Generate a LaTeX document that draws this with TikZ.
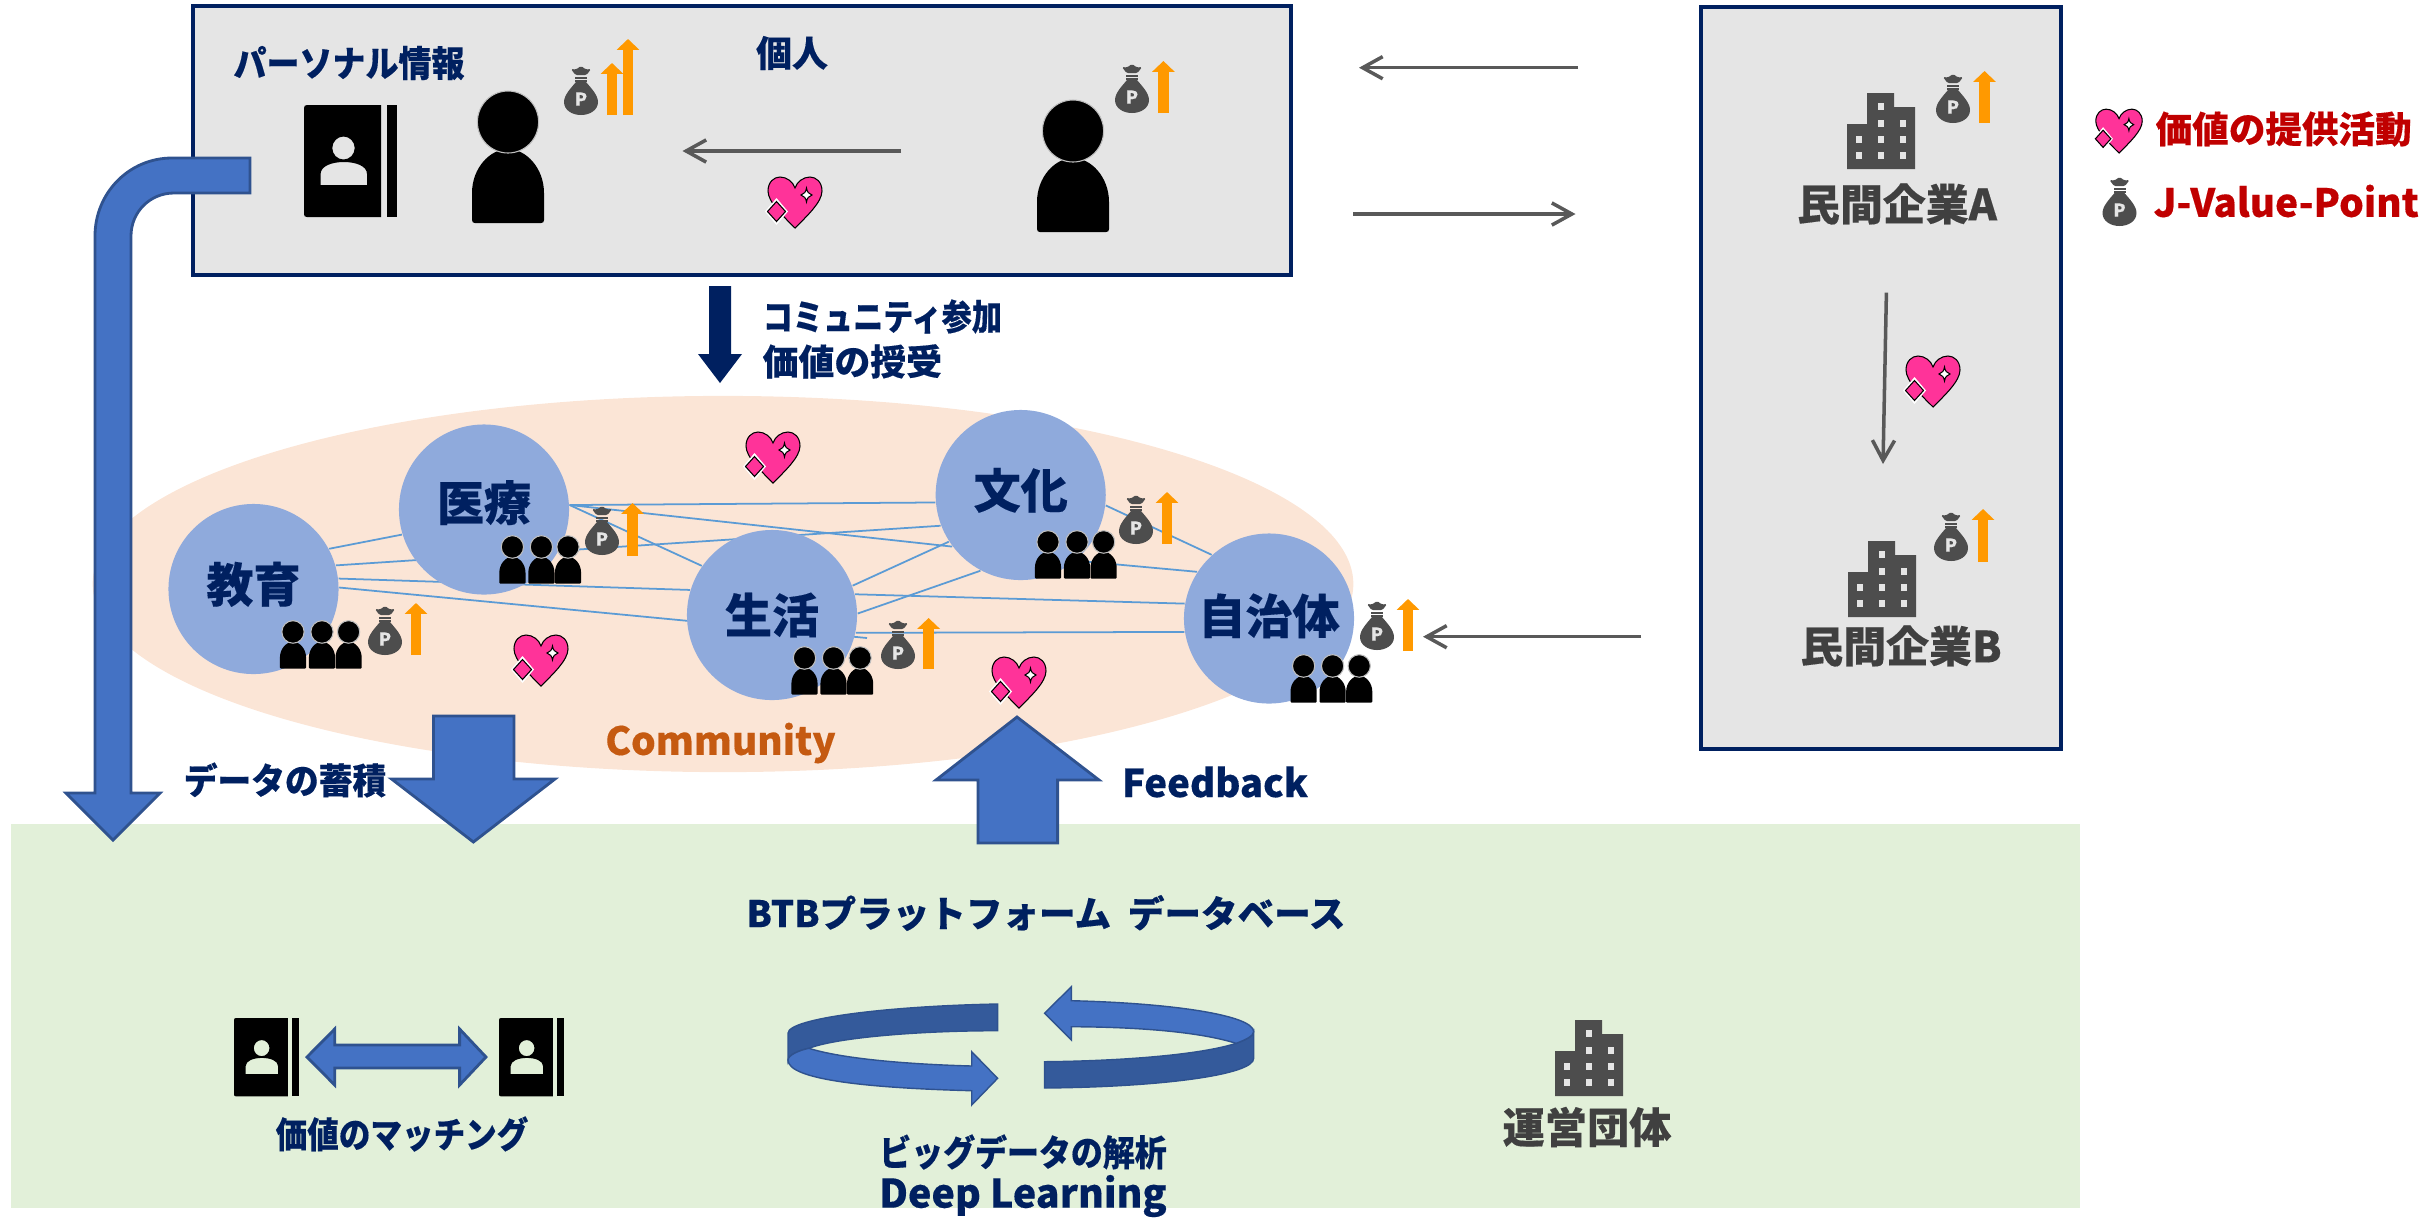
\documentclass[tikz,border=0pt]{standalone}
\usepackage{fontspec}
\setmainfont[BoldFeatures={FakeBold=0.3}]{Noto Sans CJK JP}
\usetikzlibrary{arrows.meta,shapes.geometric}

\definecolor{navy}{HTML}{002060}
\definecolor{panelgray}{HTML}{E5E5E5}
\definecolor{iconbrown}{HTML}{4D4D4D}
\definecolor{textgray}{HTML}{404040}
\definecolor{flowgray}{HTML}{595959}
\definecolor{areablue}{HTML}{8FAADC}
\definecolor{linkblue}{HTML}{5B9BD5}
\definecolor{peach}{HTML}{FBE5D6}
\definecolor{mint}{HTML}{E2F0D9}
\definecolor{blockblue}{HTML}{4472C4}
\definecolor{blockdark}{HTML}{2F528F}
\definecolor{ringdark}{HTML}{345A9B}
\definecolor{heartpink}{HTML}{FF3399}
\definecolor{pointorange}{HTML}{FF9900}
\definecolor{legendred}{HTML}{C00000}
\definecolor{commorange}{HTML}{C55A11}

\newcommand{\narrowed}[1]{\addfontfeature{FakeStretch=#1}}

\pgfdeclarelayer{bg}
\pgfdeclarelayer{links}
\pgfsetlayers{bg,links,main}

\tikzset{
    panel/.style={draw=navy, line width=1.1pt, fill=panelgray, inner sep=0pt},
    area/.style={circle, fill=areablue, minimum size=1.7cm, inner sep=0pt, text=navy, font=\fontsize{13.4}{14}\selectfont\bfseries},
    link/.style={linkblue, line width=.5pt},
    flow/.style={draw=flowgray, line width=1pt, -{Straight Barb[length=5.7pt,width=6.3pt]}},
    blockarrow/.style={draw=blockdark, fill=blockblue, line width=.8pt},
    pointup/.style={draw=pointorange, line width=3.1pt, -{Triangle[length=3.1pt,width=6.3pt]}},
    navytext/.style={text=navy, inner sep=0pt, font=\fontsize{#1}{12.8}\selectfont\bfseries},
    graytext/.style={text=textgray, inner sep=0pt, font=\fontsize{#1}{14}\selectfont\bfseries},
    redtext/.style={text=legendred, inner sep=0pt, font=\fontsize{#1}{14}\selectfont\bfseries},
    % origin of each icon: bottom centre, the note and the building bottom left
    pics/person/.style={code={
        \fill (-36,-3) -- (-36,-30) .. controls (-36,-55) and (-18,-74) .. (0,-74)
            .. controls (18,-74) and (36,-55) .. (36,-30) -- (36,-3)
            .. controls (36,-1) and (35,0) .. (33,0) -- (-33,0) .. controls (-35,0) and (-36,-1) .. (-36,-3) -- cycle;
        \filldraw[draw=white!75!black, line width=.3pt] (0,-101) ellipse (30.6 and 31);
    }},
    pics/crowd/.style={code={
        \foreach \dx in {0,29,55.6}{
            \pic[scale=.364] at (\dx,0) {person};
        }
    }},
    pics/moneybag/.style={code={
        \fill[iconbrown] (-5,-33) .. controls (-10,-27) and (-17,-20) .. (-17,-13)
            .. controls (-17,-5) and (-9,0) .. (0,0) .. controls (9,0) and (17,-5) .. (17,-13)
            .. controls (17,-20) and (10,-27) .. (5,-33) -- cycle;
        \fill[iconbrown] (-6,-38.5) rectangle (6,-36);
        \fill[iconbrown] (-6,-35) rectangle (6,-33.5);
        \fill[iconbrown, rounded corners=.4pt] (-5.5,-40) -- (-10,-46) -- (-5,-45.5) -- (0,-49) -- (5,-45.5) -- (10,-46) -- (5.5,-40) -- cycle;
        \node[text=panelgray, inner sep=0pt, font=\fontsize{5}{5}\selectfont\bfseries] (bagp) at (0,-16) {P};
    }},
    pics/valueheart/.style={code={
        \filldraw[fill=heartpink, draw=black, line width=.3pt] (0,0) .. controls (-12,-12) and (-27,-26) .. (-27,-37)
            .. controls (-27,-46) and (-21,-51) .. (-15,-51) .. controls (-8,-51) and (-2,-46) .. (0,-40)
            .. controls (2,-46) and (8,-51) .. (15,-51) .. controls (21,-51) and (27,-46) .. (27,-37)
            .. controls (27,-26) and (12,-12) .. (0,0) -- cycle;
        \fill[white] (-18.5,-30) -- (-7,-16.5) -- (-18.5,-3) -- (-30,-16.5) -- cycle;
        \filldraw[fill=heartpink, draw=black, line width=.3pt] (-18.5,-26.5) -- (-9.5,-16.5) -- (-18.5,-6.5) -- (-27.5,-16.5) -- cycle;
        \filldraw[fill=white, draw=black, line width=.3pt] (11.5,-40) .. controls (12,-36) and (14,-34) .. (17,-33)
            .. controls (14,-32) and (12,-30) .. (11.5,-26) .. controls (11,-30) and (9,-32) .. (6,-33)
            .. controls (9,-34) and (11,-36) .. (11.5,-40) -- cycle;
    }},
    pics/notebook/.style={code={
        \fill[even odd rule] (3,0) -- (77,0) -- (77,112) -- (3,112) .. controls (1,112) and (0,111) .. (0,109) -- (0,3) .. controls (0,1) and (1,0) .. (3,0) -- cycle
            (16.6,80) -- (16.6,69) .. controls (16.6,61) and (28,57) .. (39.8,57) .. controls (52,57) and (63,61) .. (63,69) -- (63,80) -- cycle
            (39.5,43) ellipse (11.2 and 11.5);
        \fill (83,0) rectangle (93,112);
    }},
    pics/building/.style={code={
        \fill[iconbrown] (0,0) -- (0,-45) -- (20,-45) -- (20,-76) -- (47,-76) -- (47,-62) -- (68,-62) -- (68,0) -- cycle;
        \foreach \wx/\wy in {34/-63, 34/-46, 56/-46, 12/-30, 34/-30, 56/-30, 12/-14, 34/-14, 56/-14}{
            \fill[panelgray] (\wx-3,\wy-3.5) rectangle (\wx+3,\wy+3.5);
        }
    }},
}

\begin{document}
\begin{tikzpicture}[x=0.01cm, y=-0.01cm]
    \useasboundingbox (0,0) rectangle (2433,1217);

    % Backdrops
    \begin{pgfonlayer}{bg}
        \node[fill=mint, minimum width=20.67cm, minimum height=3.84cm, inner sep=0pt] (platform) at (1045.5,1016) {};
        \node[ellipse, fill=peach, minimum width=12.6cm, minimum height=3.76cm, inner sep=0pt] (community) at (723,584) {};
    \end{pgfonlayer}
    \node[panel, minimum width=10.98cm, minimum height=2.69cm] (personal) at (742,140.5) {};
    \node[panel, minimum width=3.6cm, minimum height=7.42cm] (firms) at (1881,378) {};

    % Fields of the community
    \foreach \name/\x/\y/\dy/\txt in {edu/253.5/589/4/教育, med/484/509.5/5.2/医療, liv/772/615/0/生活, cul/1020.7/495/4/文化, gov/1269/618.5/2.8/自治体}{
        \node[area] (\name) at (\x,\y) {\raisebox{\dy pt}{\txt}};
    }

    % Links between the fields
    \coordinate (eduend) at (867,638);
    \begin{pgfonlayer}{links}
        \foreach \a/\b in {edu.28/med.197, edu.16/cul.201, edu.7/liv.163, edu.1/eduend, med.3/cul.185, med.3/cul.217, med.3/liv.145,
            liv.20/cul.213, liv.1/cul.242, liv.14/gov.170, liv.-12/gov.189, cul.-7/gov.132, cul.-50/gov.147}{
            \draw[link] (\a) -- (\b);
        }
    \end{pgfonlayer}

    % People
    \pic at (508,223) {person};
    \pic at (1073,232) {person};
    \foreach \x/\y in {293/668.7, 512.4/583.7, 804.5/694.7, 1048/578.7, 1303.6/702.7}{
        \pic at (\x,\y) {crowd};
    }

    % Points
    \foreach \x/\y in {581/115, 1132/113, 1953/123, 1951/561, 385/655, 602/555, 898/669, 1136/544, 1377/650, 2119.5/226}{
        \pic at (\x,\y) {moneybag};
    }
    \foreach \x/\y/\tip in {612/115/63, 628/115/39, 1163.4/113/61, 1984.5/123/71, 1983/562/509, 416/655/603, 632.5/556/503, 928.6/669/618, 1167/544/492, 1408/651/599}{
        \draw[pointup] (\x,\y) -- (\x,\tip);
    }

    % Hearts
    \foreach \x/\y in {795/228, 773/483, 541/686, 1019/708, 1933/407}{
        \pic at (\x,\y) {valueheart};
    }
    \pic[scale=.86] at (2119,153) {valueheart};

    % Buildings and notes
    \pic at (1847,169) {building};
    \pic at (1848,617) {building};
    \pic at (1555,1096) {building};
    \pic at (304,105) {notebook};
    \pic[scale=.7] at (234,1018) {notebook};
    \pic[scale=.7] at (499,1018) {notebook};

    % Thin arrows
    \coordinate (payfrom) at (1578,67.7);
    \coordinate (payto) at (1359,67.7);
    \coordinate (backfrom) at (1353,214);
    \coordinate (backto) at (1575.5,214);
    \coordinate (givefrom) at (901,151);
    \coordinate (giveto) at (682.5,151);
    \coordinate (firmfrom) at (1886.4,292.7);
    \coordinate (firmto) at (1883,464);
    \coordinate (govfrom) at (1641,636.7);
    \coordinate (govto) at (1423,636.7);
    \foreach \a/\b in {payfrom/payto, backfrom/backto, givefrom/giveto, firmfrom/firmto, govfrom/govto}{
        \draw[flow] (\a) -- (\b);
    }

    % Block arrows
    \draw[blockarrow] (250,158) -- (172,158) .. controls (129,158) and (95,193) .. (95,236) -- (95,793) -- (66,793) -- (113,840) -- (160,793)
        -- (131,793) -- (131,236) .. controls (131,212) and (150,193) .. (174,193) -- (250,193) -- cycle;
    \draw[blockarrow] (433.5,716) -- (514,716) -- (514,779) -- (555,779) -- (473.4,842) -- (391.6,779) -- (433.5,779) -- cycle;
    \draw[blockarrow] (978,843) -- (1057.6,843) -- (1057.6,780) -- (1099,780) -- (1017,717) -- (936,780) -- (978,780) -- cycle;
    \fill[navy] (709,286) -- (731,286) -- (731,354) -- (742,354) -- (720,383) -- (698,354) -- (709,354) -- cycle;
    \draw[blockarrow] (307,1057) -- (334.7,1029) -- (334.7,1045) -- (459.6,1045) -- (459.6,1029) -- (486,1057) -- (459.6,1085) -- (459.6,1068) -- (334.7,1068) -- (334.7,1085) -- cycle;

    % Turning arrows of the analysis
    \draw[blockarrow, fill=ringdark, line width=.4pt] (997.6,1004) .. controls (890,1006) and (788,1018) .. (788,1033.3) -- (788,1060)
        .. controls (788,1055) and (800,1050) .. (808.9,1048.3) .. controls (835,1038) and (915,1030.7) .. (997.6,1030.7) -- cycle;
    \draw[blockarrow, line width=.4pt] (808.9,1048.3) .. controls (840,1058) and (900,1064) .. (971.7,1066) -- (971.7,1051.7) -- (997.6,1078.3) -- (971.7,1105) -- (971.7,1090.7)
        .. controls (870,1088) and (788,1080) .. (788,1060) .. controls (788,1055) and (800,1050) .. (808.9,1048.3) -- cycle;
    \draw[blockarrow, fill=ringdark, line width=.4pt] (1236.1,1043.3) .. controls (1200,1055) and (1120,1061) .. (1044.6,1061.7) -- (1044.6,1088)
        .. controls (1160,1087) and (1253.7,1075) .. (1253.7,1058.3) -- (1253.7,1031.7) .. controls (1253.7,1036) and (1245,1040) .. (1236.1,1043.3) -- cycle;
    \draw[blockarrow, line width=.4pt] (1071.3,1000.7) .. controls (1170,1003) and (1253.7,1015) .. (1253.7,1031.7) .. controls (1253.7,1036) and (1245,1040) .. (1236.1,1043.3)
        .. controls (1200,1032) and (1140,1027) .. (1071.3,1026.7) -- (1071.3,1040) -- (1044.6,1013.3) -- (1071.3,986.7) -- cycle;

    % Labels
    \node[navytext=10.2] (infolabel) at (349,63) {\narrowed{.92}パーソナル情報};
    \node[navytext=10.2] (kojinlabel) at (792,53) {個人};
    \node[navytext=10.2, anchor=west, align=left] (joinlabel) at (762,339) {{\narrowed{.84}コミュニティ参加}\\価値の授受};
    \node[navytext=10.2] (storelabel) at (285,780) {\narrowed{.94}データの蓄積};
    \node[navytext=10.9] (feedbacklabel) at (1215,782) {Feedback};
    \node[text=commorange, inner sep=0pt, font=\fontsize{11}{13}\selectfont\bfseries] (commlabel) at (720.5,743) {Community};
    \node[navytext=10.4] (dblabel) at (1046,913) {BTBプラットフォーム~~データベース};
    \node[navytext=10.2] (matchlabel) at (402,1134) {\narrowed{.88}価値のマッチング};
    \node[navytext=10.2] (biglabel) at (1023,1152) {\narrowed{.89}ビッグデータの解析};
    \node[navytext=11.2] (deeplabel) at (1023,1196) {Deep Learning};
    \node[graytext=12] (orglabel) at (1587,1127) {運営団体};
    \node[graytext=12.2] (firmalabel) at (1897,204) {民間企業A};
    \node[graytext=12.2] (firmblabel) at (1901,646) {民間企業B};
    \node[redtext=10.4, anchor=west] (legendheart) at (2155,129) {価値の提供活動};
    \node[redtext=11, anchor=west] (legendpoint) at (2153,201) {J-Value-Point};
\end{tikzpicture}
\end{document}
